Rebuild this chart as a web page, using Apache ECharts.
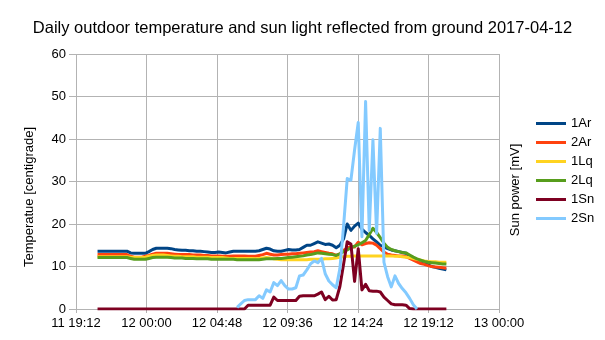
<!DOCTYPE html>
<html>
<head>
<meta charset="utf-8">
<script src="https://cdn.jsdelivr.net/npm/echarts@6/dist/echarts.min.js"></script>
<style>
html, body { margin: 0; padding: 0; background: #fff; }
#chart { width: 605px; height: 340px; }
</style>
</head>
<body>
<div id="chart"></div>
<script>
// ---- data ----
const chartTitle = 'Daily outdoor temperature and sun light reflected from ground 2017-04-12';
const seriesNames = ['1Ar', '2Ar', '1Lq', '2Lq', '1Sn', '2Sn'];
// sampling: every 15 minutes from 2017-04-11 20:40
const sampleStart = Date.UTC(2017, 3, 11, 20, 40);
const sampleStepMinutes = 15;

const ar1 = [
  13.6,13.6,13.6,13.6,13.6,13.6,13.6,13.6,13.6,13.2,13.1,13.1,
  13.1,13.1,13.5,14.0,14.3,14.3,14.3,14.3,14.2,14.0,13.9,13.8,
  13.8,13.7,13.7,13.6,13.6,13.5,13.4,13.3,13.3,13.4,13.3,13.2,
  13.4,13.6,13.6,13.6,13.6,13.6,13.6,13.6,13.7,14.0,14.3,14.1,
  13.7,13.6,13.6,13.8,14.0,13.9,13.9,14.0,14.5,15.0,15.0,15.4,
  15.8,15.5,15.2,15.3,15.0,14.4,15.0,16.5,20.0,18.5,19.5,20.2,
  18.8,18.0,17.3,16.5,15.8,15.0,14.6,14.2,13.9,13.7,13.5,13.3,
  13.1,12.5,11.9,11.5,11.1,10.7,10.4,10.0,9.8,9.6,9.4,9.2
];
const ar2 = [
  12.8,12.8,12.8,12.8,12.8,12.8,12.8,12.8,12.8,12.4,12.2,12.2,
  12.2,12.4,12.6,12.9,13.1,13.1,13.1,13.1,13.0,12.9,12.8,12.8,
  12.8,12.8,12.7,12.7,12.7,12.6,12.6,12.5,12.5,12.5,12.4,12.4,
  12.4,12.5,12.5,12.5,12.5,12.4,12.4,12.4,12.6,12.8,13.1,12.9,
  12.7,12.7,12.8,12.9,12.9,13.0,13.0,13.1,13.2,13.3,13.4,13.5,
  13.7,13.5,13.3,13.1,13.0,12.6,13.0,13.8,14.3,14.7,14.6,15.7,
  15.1,15.4,15.6,15.5,15.0,14.2,13.4,12.9,12.7,12.6,12.5,12.5,
  12.3,11.9,11.5,11.1,10.7,10.5,10.2,10.0,9.9,9.8,9.7,9.6
];
const lq1 = [
  12.3,12.3,12.3,12.3,12.3,12.3,12.3,12.3,12.3,12.2,12.1,12.1,
  12.1,12.2,12.4,12.6,12.7,12.7,12.7,12.6,12.5,12.4,12.4,12.3,
  12.3,12.3,12.3,12.2,12.2,12.2,12.2,12.1,12.1,12.1,12.1,12.0,
  11.9,11.9,11.9,11.9,11.9,11.9,11.9,11.8,11.9,12.0,12.1,12.0,
  11.8,11.7,11.6,11.6,11.6,11.6,11.6,11.6,11.6,11.6,11.7,11.7,
  11.7,11.7,11.8,11.8,11.9,12.0,12.2,12.3,12.4,12.4,12.5,12.5,
  12.5,12.5,12.5,12.5,12.5,12.5,12.5,12.5,12.5,12.4,12.4,12.3,
  12.2,12.1,11.9,11.7,11.5,11.3,11.2,11.1,11.1,11.0,11.0,11.0
];
const lq2 = [
  12.1,12.1,12.1,12.1,12.1,12.1,12.1,12.1,12.1,11.9,11.7,11.7,
  11.7,11.7,11.9,12.1,12.2,12.2,12.2,12.2,12.1,12.0,12.0,12.0,
  11.9,11.9,11.9,11.8,11.8,11.8,11.8,11.7,11.7,11.7,11.7,11.7,
  11.7,11.7,11.6,11.6,11.6,11.6,11.6,11.6,11.6,11.7,11.8,11.8,
  11.8,11.9,11.9,12.0,12.1,12.2,12.3,12.4,12.5,12.7,12.8,13.0,
  13.2,13.1,13.0,12.9,12.8,12.6,13.0,13.5,13.9,14.4,14.8,15.1,
  15.6,16.1,17.5,19.0,18.0,16.8,15.5,14.5,14.0,13.7,13.5,13.3,
  13.2,12.7,12.2,11.8,11.5,11.2,11.0,10.9,10.8,10.7,10.6,10.6
];
const sn1 = [
  0,0,0,0,0,0,0,0,0,0,0,0,
  0,0,0,0,0,0,0,0,0,0,0,0,
  0,0,0,0,0,0,0,0,0,0,0,0,
  0,0,0,0,0,0.9,0.9,0.9,0.9,0.9,0.9,0.9,
  2.8,2.0,2.0,2.0,2.0,2.0,2.0,3.0,3.1,3.1,3.1,3.1,
  3.5,4.0,2.2,3.0,2.1,2.2,5.3,10.5,15.8,15.3,6.5,14.2,
  4.5,5.8,4.3,4.2,4.2,4.0,2.8,2.0,1.2,1.0,1.0,1.0,
  0.9,0.1,0,0,0,0,0,0,0,0,0,0
];
const sn2 = [
  null,null,null,null,null,null,null,null,null,null,null,null,
  null,null,null,null,null,null,null,null,null,null,null,null,
  null,null,null,null,null,null,null,null,null,null,null,null,
  null,null,0.4,1.2,2.0,2.2,2.2,2.2,3.1,2.5,4.5,4.0,
  6.2,5.5,6.7,5.5,4.7,4.7,5.0,7.8,8.0,9.2,10.6,11.3,
  10.9,11.9,8.3,6.6,5.7,5.0,9.5,19.5,30.7,30.3,37.4,43.9,
  17.0,48.8,18.5,39.8,17.8,42.5,11.0,7.6,5.2,7.8,6.0,4.8,
  3.8,2.5,1.0,0.0,null,null,null,null,null,null,null,null
];
const seriesValues = [ar1, ar2, lq1, lq2, sn1, sn2];
const seriesColors = ['#004586', '#ff420e', '#ffd320', '#579d1c', '#7e0021', '#83caff'];

// axis settings
const xMin = Date.UTC(2017, 3, 11, 19, 12);
const xMax = Date.UTC(2017, 3, 13, 0, 0);
const xInterval = 4.8 * 3600 * 1000;
const yAxisNameLeft = 'Temperatue [centigrade]';
const yAxisNameRight = 'Sun power [mV]';

// ---- chart ----
const sampleTimes = ar1.map((_, i) => sampleStart + i * sampleStepMinutes * 60000);
function pad(n) { return (n < 10 ? '0' : '') + n; }
function fmtTime(v) {
  const d = new Date(v);
  return pad(d.getUTCDate()) + ' ' + pad(d.getUTCHours()) + ':' + pad(d.getUTCMinutes());
}
const FONT = 'Liberation Sans';
const gridColor = '#b3b3b3';

const series = seriesNames.map((name, k) => ({
  name: name,
  type: 'line',
  color: seriesColors[k],
  showSymbol: false,
  symbol: 'none',
  lineStyle: { width: 3, color: seriesColors[k], join: 'round' },
  data: seriesValues[k]
    .map((v, i) => [sampleTimes[i], v])
    .filter(p => p[1] !== null)
}));

const chart = echarts.init(document.getElementById('chart'), null, { renderer: 'canvas' });
chart.setOption({
  animation: false,
  backgroundColor: '#ffffff',
  textStyle: { fontFamily: FONT, color: '#000' },
  title: {
    text: chartTitle,
    left: 'center',
    top: 15,
    textStyle: { fontFamily: FONT, fontSize: 16.5, fontWeight: 'normal', color: '#000' }
  },
  legend: {
    orient: 'vertical',
    left: 531,
    top: 112,
    icon: 'rect',
    itemWidth: 30,
    itemHeight: 3,
    itemGap: 6,
    itemStyle: { borderWidth: 0 },
    textStyle: { fontFamily: FONT, fontSize: 13, color: '#000' },
    data: seriesNames
  },
  grid: { left: 76, right: 106, top: 54, bottom: 31, containLabel: false },
  xAxis: {
    type: 'value',
    min: xMin,
    max: xMax,
    interval: xInterval,
    axisLine: { show: false },
    axisTick: { show: true, length: 4, lineStyle: { color: gridColor } },
    splitLine: { show: true, lineStyle: { color: gridColor, width: 1 } },
    axisLabel: {
      formatter: fmtTime,
      margin: 8,
      fontFamily: FONT,
      fontSize: 13,
      color: '#000',
      showMinLabel: true,
      showMaxLabel: true,
      hideOverlap: false
    }
  },
  yAxis: [
    {
      type: 'value',
      min: 0,
      max: 60,
      interval: 10,
      name: yAxisNameLeft,
      nameLocation: 'middle',
      nameRotate: 90,
      nameGap: 40,
      nameTextStyle: { fontFamily: FONT, fontSize: 13, color: '#000', padding: [0, 31, 0, 0] },
      axisLine: { show: false },
      axisTick: { show: true, length: 7, lineStyle: { color: gridColor } },
      splitLine: { show: true, lineStyle: { color: gridColor, width: 1 } },
      axisLabel: { margin: 10, fontFamily: FONT, fontSize: 13, color: '#000' }
    },
    {
      type: 'value',
      position: 'right',
      min: 0,
      max: 60,
      interval: 10,
      name: yAxisNameRight,
      nameLocation: 'middle',
      nameRotate: 90,
      nameGap: 10,
      nameTextStyle: { fontFamily: FONT, fontSize: 13, color: '#000', padding: [0, 17, 0, 0] },
      axisLine: { show: false },
      axisTick: { show: false },
      splitLine: { show: false },
      axisLabel: { show: false }
    }
  ],
  series: series
});
</script>
</body>
</html>
